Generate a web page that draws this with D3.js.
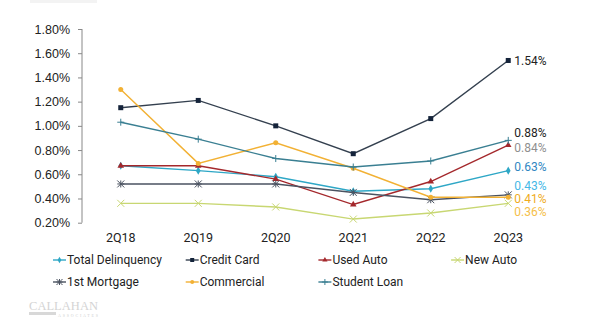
<!DOCTYPE html>
<meta charset="utf-8">
<style>
body { margin: 0; background: #fff; }
svg { font-family: Roboto, "Liberation Sans", sans-serif; }
.axis path, .axis line { stroke: #888; }
.axis text { fill: #222; font-size: 12.5px; }
.line { fill: none; stroke-width: 1.4px; }
.legend text { font-size: 12px; fill: #222; }
</style>
<svg width="600" height="325"></svg>
<script src="https://cdn.jsdelivr.net/npm/d3@7"></script>
<script>
// quarters and delinquency rates (%)
var quarters = ["2Q18", "2Q19", "2Q20", "2Q21", "2Q22", "2Q23"];
var totalDelinquency = [0.67, 0.63, 0.58, 0.46, 0.48, 0.63];
var creditCard      = [1.15, 1.21, 1.00, 0.77, 1.06, 1.54];
var usedAuto        = [0.67, 0.67, 0.56, 0.35, 0.54, 0.84];
var newAuto         = [0.36, 0.36, 0.33, 0.23, 0.28, 0.36];
var firstMortgage   = [0.52, 0.52, 0.52, 0.45, 0.39, 0.43];
var commercial      = [1.30, 0.69, 0.86, 0.65, 0.41, 0.41];
var studentLoan     = [1.03, 0.89, 0.73, 0.66, 0.71, 0.88];
var yTicks = [0.2, 0.4, 0.6, 0.8, 1.0, 1.2, 1.4, 1.6, 1.8];

// label colour and nudge for the latest-quarter value labels
var series = [
  {name: "Total Delinquency", values: totalDelinquency, color: "#2ea7c6", sym: "diamond", label: "#2f86c2", nudge: -4},
  {name: "Credit Card", values: creditCard, color: "#34404f", mark: "#14233a", sym: "square", label: "#222", nudge: 0},
  {name: "Used Auto", values: usedAuto, color: "#a4282c", sym: "triangle", label: "#8f8f8f", nudge: 3},
  {name: "New Auto", values: newAuto, color: "#c8d772", sym: "cross", label: "#f5c04a", nudge: 8.5},
  {name: "1st Mortgage", values: firstMortgage, color: "#4b5361", sym: "star", label: "#45b8e6", nudge: -9.5},
  {name: "Commercial", values: commercial, color: "#f2b134", sym: "circle", label: "#efac1e", nudge: 1.5},
  {name: "Student Loan", values: studentLoan, color: "#3a7f92", sym: "plus", label: "#222", nudge: -8}
];

var svg = d3.select("svg");

svg.append("rect").attr("x", 30).attr("y", 0).attr("width", 67).attr("height", 3).attr("fill", "#f3f3f3");

var x = d3.scaleBand().domain(quarters).range([82, 547]);
var y = d3.scaleLinear().domain([0.2, 1.8]).range([222.7, 29]);
var cx = function(q) { return x(q) + x.bandwidth() / 2; };

svg.append("g")
    .attr("class", "axis")
    .attr("transform", "translate(82,0)")
    .call(d3.axisLeft(y).tickValues(yTicks).tickSize(4).tickPadding(8)
      .tickFormat(function(d) { return d.toFixed(2) + "%"; }))
    .call(function(g) { g.select(".domain").attr("d", "M0,29V222.7"); });

svg.append("g").selectAll("text")
  .data(quarters)
  .enter().append("text")
    .attr("x", cx)
    .attr("y", 238)
    .attr("dy", "0.35em")
    .attr("text-anchor", "middle")
    .style("font-size", "12.5px")
    .attr("fill", "#222")
    .text(function(d) { return d; });

var line = d3.line()
    .x(function(d, i) { return cx(quarters[i]); })
    .y(function(d) { return y(d); });

function marker(g, s, px, py, sz) {
  var c = s.mark || s.color;
  if (s.sym === "square") {
    g.append("rect").attr("x", px - sz).attr("y", py - sz).attr("width", sz * 2).attr("height", sz * 2).attr("fill", c);
  } else if (s.sym === "circle") {
    g.append("circle").attr("cx", px).attr("cy", py).attr("r", sz).attr("fill", c);
  } else if (s.sym === "triangle") {
    g.append("path").attr("d", d3.symbol(d3.symbolTriangle, sz * sz * 3)()).attr("transform", "translate(" + px + "," + py + ")").attr("fill", c);
  } else if (s.sym === "diamond") {
    g.append("path").attr("d", d3.symbol(d3.symbolDiamond, sz * sz * 3)()).attr("transform", "translate(" + px + "," + py + ")").attr("fill", c);
  } else {
    var p = "";
    var r = sz + 1;
    if (s.sym === "plus" || s.sym === "star") p += "M" + (px - r) + "," + py + "H" + (px + r) + "M" + px + "," + (py - r) + "V" + (py + r);
    if (s.sym === "cross" || s.sym === "star") p += "M" + (px - r) + "," + (py - r) + "L" + (px + r) + "," + (py + r) + "M" + (px - r) + "," + (py + r) + "L" + (px + r) + "," + (py - r);
    g.append("path").attr("d", p).attr("stroke", c).attr("stroke-width", 1).attr("fill", "none");
  }
}

var plot = svg.append("g");
series.forEach(function(s) {
  var g = plot.append("g");
  g.append("path").attr("class", "line").attr("d", line(s.values)).style("stroke", s.color);
  s.values.forEach(function(v, i) { marker(g, s, cx(quarters[i]), y(v), 2.5); });
});

series.forEach(function(s) {
  var v = s.values[s.values.length - 1];
  svg.append("text")
      .attr("x", cx(quarters[quarters.length - 1]) + 6)
      .attr("y", y(v) + s.nudge)
      .attr("dy", "0.35em")
      .style("font-size", "12px")
      .attr("fill", s.label)
      .text(v.toFixed(2) + "%");
});

// legend, four columns
var legend = svg.append("g").attr("class", "legend");
series.forEach(function(s, i) {
  var lx = 53 + (i % 4) * 132.7, ly = 260 + Math.floor(i / 4) * 22;
  var g = legend.append("g");
  g.append("line").attr("x1", lx).attr("x2", lx + 13).attr("y1", ly).attr("y2", ly).attr("stroke", s.color).attr("stroke-width", 1.4);
  marker(g, s, lx + 6.5, ly, 2);
  g.append("text").attr("x", lx + 14).attr("y", ly).attr("dy", "0.35em").text(s.name);
});

// company mark
var logo = svg.append("g");
logo.append("text").attr("x", 29).attr("y", 309.5).style("font-family", "'Liberation Serif', serif")
    .style("font-size", "12.5px").attr("fill", "#d4d4d4").attr("textLength", 69).text("CALLAHAN");
logo.append("rect").attr("x", 29).attr("y", 312).attr("width", 27).attr("height", 3).attr("fill", "#d8d8d8");
logo.append("text").attr("x", 58).attr("y", 316.5).style("font-family", "'Liberation Serif', serif")
    .style("font-size", "4px").attr("fill", "#d0d0d0").attr("textLength", 40).text("ASSOCIATES");
</script>
